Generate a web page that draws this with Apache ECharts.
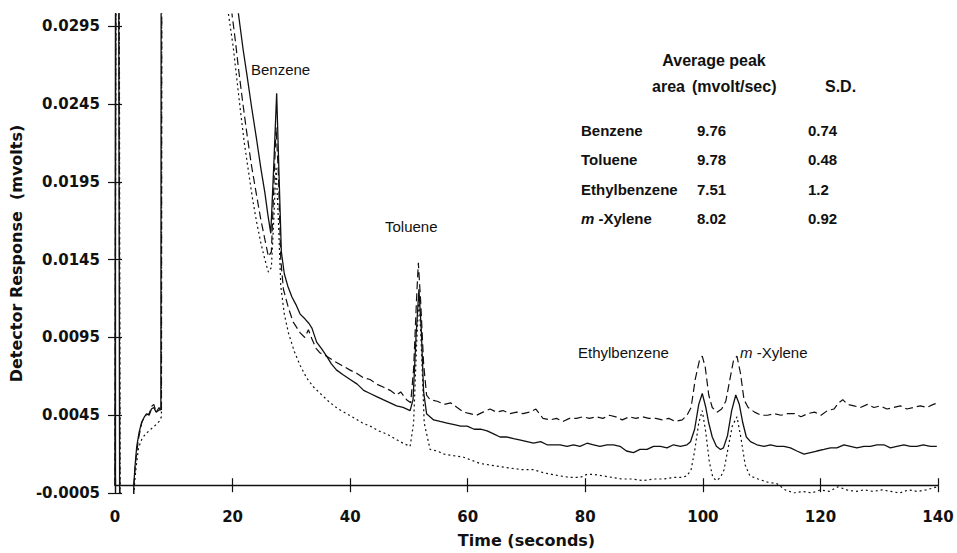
<!DOCTYPE html>
<html>
<head>
<meta charset="utf-8">
<script src="https://cdn.jsdelivr.net/npm/echarts@6/dist/echarts.min.js"></script>
<style>html,body{margin:0;padding:0;background:#fff}#c{width:957px;height:553px}</style>
</head>
<body>
<div id="c"></div>
<script>
// ---- data ----
const xTicks = [0, 20, 40, 60, 80, 100, 120, 140];
const yTicks = [-0.0005, 0.0045, 0.0095, 0.0145, 0.0195, 0.0245, 0.0295];

const compounds = ['Benzene', 'Toluene', 'Ethylbenzene', 'm -Xylene'];
const peakAreas = ['9.76', '9.78', '7.51', '8.02'];
const peakSD = ['0.74', '0.48', '1.2', '0.92'];

// time (s), response (mV)  -- solid trace
const solidTrace = [
[0,0],[0.2,0.06],[0.5,0.06],[0.8,-0.004],[3.0,-0.004],
[3.2,0.0000],[3.4,0.0012],[3.7,0.0025],[4.1,0.0034],[4.5,0.0040],[5.0,0.0044],[5.4,0.0046],[5.8,0.0045],[6.2,0.0049],[6.6,0.0050],[7.0,0.0047],[7.4,0.0048],[7.8,0.0049],[7.9,0.06],[20.0,0.06],
[21.0,0.0303],[21.8,0.0280],[22.4,0.0265],[23.2,0.0244],[24.1,0.0222],[24.8,0.0204],[25.5,0.0188],[26.0,0.0174],[26.5,0.0162],[27.0,0.0205],[27.5,0.0252],[27.9,0.0200],[28.3,0.0150],[28.8,0.0136],[29.4,0.0128],[30.1,0.0121],[30.8,0.0116],[31.5,0.0110],[32.3,0.0107],[33.0,0.0104],[33.5,0.0101],[34.3,0.0092],[35.1,0.0088],[36.0,0.0083],[36.8,0.0078],[37.7,0.0074],[38.8,0.0071],[40.0,0.0068],[41.2,0.0065],[42.3,0.0061],[43.4,0.0059],[44.5,0.0057],[45.6,0.0055],[46.8,0.0053],[47.9,0.0051],[49.0,0.0050],[50.2,0.0048],[50.7,0.0055],[51.2,0.0095],[51.7,0.0126],[52.1,0.0100],[52.5,0.0060],[53.0,0.0046],[54.2,0.0042],[55.3,0.0041],[56.5,0.0040],[57.7,0.0039],[58.8,0.0038],[59.9,0.0038],[61.1,0.0036],[62.2,0.0036],[63.3,0.0035],[64.4,0.0033],[65.5,0.0031],[66.7,0.0031],[67.8,0.0030],[69.0,0.0029],[70.1,0.0028],[71.2,0.0027],[72.4,0.0028],[73.5,0.0026],[74.6,0.0026],[75.7,0.0026],[76.9,0.0025],[78.0,0.0026],[79.1,0.0025],[80.3,0.0027],[81.4,0.0026],[82.5,0.0025],[83.7,0.0026],[84.8,0.0026],[85.9,0.0025],[87.0,0.0022],[88.2,0.0021],[89.3,0.0023],[90.5,0.0023],[91.6,0.0025],[92.8,0.0025],[93.9,0.0024],[95.0,0.0026],[96.2,0.0025],[97.3,0.0026],[97.9,0.0028],[98.6,0.0036],[99.3,0.0052],[99.9,0.0059],[100.5,0.0050],[101.0,0.0040],[101.6,0.0031],[102.3,0.0025],[103.0,0.0023],[103.5,0.0024],[104.2,0.0032],[104.9,0.0048],[105.6,0.0058],[106.2,0.0052],[106.8,0.0040],[107.4,0.0031],[108.1,0.0028],[109.2,0.0026],[110.4,0.0025],[111.5,0.0026],[112.6,0.0025],[113.8,0.0025],[114.9,0.0024],[116.0,0.0022],[117.2,0.0020],[118.3,0.0021],[119.4,0.0022],[120.6,0.0023],[121.7,0.0024],[122.8,0.0024],[124.0,0.0026],[125.1,0.0025],[126.2,0.0024],[127.4,0.0025],[128.5,0.0025],[129.6,0.0026],[130.8,0.0026],[131.9,0.0024],[133.0,0.0025],[134.2,0.0026],[135.3,0.0025],[136.4,0.0025],[137.5,0.0026],[138.7,0.0025],[139.8,0.0025]
];

// dashed trace
const dashedTrace = [
[0,0],[0.25,0.06],[0.55,0.06],[0.85,-0.004],[3.0,-0.004],
[3.2,0.0000],[3.5,0.0015],[4.0,0.0030],[4.6,0.0041],[5.2,0.0045],[5.8,0.0046],[6.3,0.0051],[6.6,0.0052],[7.0,0.0047],[7.5,0.0050],[7.9,0.0047],[8.0,0.06],[19.0,0.06],
[19.9,0.0303],[20.5,0.0285],[21.0,0.0268],[21.7,0.0247],[22.4,0.0227],[23.2,0.0206],[24.1,0.0186],[24.8,0.0171],[25.5,0.0158],[26.1,0.0147],[26.6,0.0150],[27.0,0.0190],[27.4,0.0230],[27.8,0.0200],[28.2,0.0145],[28.65,0.0126],[29.5,0.0114],[30.3,0.0105],[31.5,0.0098],[32.3,0.0095],[32.9,0.0100],[33.5,0.0094],[34.2,0.0088],[34.9,0.0085],[36.0,0.0083],[37.2,0.0080],[38.6,0.0077],[40.0,0.0074],[41.1,0.0072],[42.3,0.0069],[43.4,0.0068],[44.5,0.0065],[45.7,0.0063],[46.8,0.0061],[47.9,0.0058],[48.6,0.0060],[49.6,0.0055],[50.3,0.0053],[50.8,0.0075],[51.3,0.0120],[51.6,0.0143],[52.0,0.0118],[52.5,0.0078],[53.0,0.0058],[53.6,0.0055],[54.8,0.0054],[56.0,0.0052],[57.1,0.0053],[58.2,0.0050],[59.3,0.0047],[60.4,0.0046],[61.5,0.0045],[62.6,0.0047],[63.8,0.0049],[64.9,0.0047],[66.0,0.0048],[67.2,0.0046],[68.3,0.0047],[69.4,0.0046],[70.5,0.0047],[71.6,0.0049],[72.8,0.0043],[74.0,0.0042],[75.1,0.0043],[76.2,0.0041],[77.3,0.0043],[78.5,0.0043],[79.6,0.0044],[80.7,0.0043],[81.8,0.0044],[83.0,0.0043],[84.1,0.0045],[85.2,0.0044],[86.3,0.0042],[87.5,0.0044],[88.6,0.0043],[89.7,0.0044],[90.8,0.0043],[92.0,0.0043],[93.1,0.0042],[94.2,0.0043],[95.3,0.0041],[96.5,0.0042],[97.3,0.0045],[98.0,0.0050],[98.7,0.0068],[99.4,0.0080],[99.9,0.0083],[100.4,0.0076],[101.0,0.0058],[101.6,0.0050],[102.4,0.0047],[103.2,0.0049],[103.9,0.0054],[104.6,0.0068],[105.2,0.0080],[105.8,0.0083],[106.4,0.0072],[107.0,0.0055],[107.7,0.0050],[108.8,0.0047],[109.9,0.0045],[111.0,0.0045],[112.2,0.0046],[113.3,0.0045],[114.4,0.0046],[115.6,0.0046],[116.7,0.0044],[117.8,0.0046],[119.0,0.0047],[120.1,0.0045],[121.2,0.0048],[122.3,0.0049],[123.1,0.0053],[123.8,0.0055],[124.6,0.0052],[125.7,0.0051],[126.8,0.0050],[128.0,0.0052],[129.1,0.0050],[130.2,0.0051],[131.3,0.0049],[132.5,0.0050],[133.6,0.0051],[134.7,0.0049],[135.8,0.0050],[137.0,0.0051],[138.1,0.0050],[139.2,0.0052],[140.0,0.0053]
];

// dotted trace
const dottedTrace = [
[0,0],[0.3,0.06],[0.6,0.06],[0.9,-0.004],[3.0,-0.004],
[3.3,0.0000],[3.6,0.0012],[4.0,0.0024],[4.6,0.0030],[5.2,0.0033],[5.8,0.0035],[6.4,0.0037],[7.0,0.0039],[7.5,0.0041],[7.9,0.0044],[8.0,0.06],[18.5,0.06],
[19.3,0.0303],[20.1,0.0282],[20.7,0.0262],[21.3,0.0242],[22.0,0.0220],[22.7,0.0202],[23.4,0.0184],[24.1,0.0169],[24.8,0.0156],[25.5,0.0145],[26.1,0.0137],[26.6,0.0140],[27.0,0.0170],[27.4,0.0205],[27.8,0.0170],[28.2,0.0128],[28.8,0.0110],[29.5,0.0098],[30.5,0.0086],[31.5,0.0077],[32.6,0.0069],[33.8,0.0063],[35.2,0.0058],[36.6,0.0053],[38.0,0.0049],[39.4,0.0046],[40.8,0.0043],[42.1,0.0040],[43.4,0.0038],[44.8,0.0035],[46.2,0.0033],[47.6,0.0030],[49.0,0.0027],[50.2,0.0025],[50.8,0.0040],[51.3,0.0090],[51.7,0.0122],[52.1,0.0090],[52.6,0.0040],[53.6,0.0023],[54.8,0.0022],[56.0,0.0020],[57.6,0.0019],[59.3,0.0018],[60.7,0.0016],[62.1,0.0014],[63.8,0.0013],[65.5,0.0012],[67.3,0.0011],[69.2,0.0010],[71.2,0.0010],[72.9,0.0008],[74.3,0.0007],[75.7,0.0006],[77.4,0.0005],[79.1,0.0005],[80.3,0.0007],[81.4,0.0007],[83.0,0.0006],[84.6,0.0005],[86.2,0.0004],[87.9,0.0004],[89.9,0.0003],[91.6,0.0004],[93.3,0.0004],[95.0,0.0005],[96.4,0.0005],[97.3,0.0006],[98.0,0.0010],[98.6,0.0022],[99.3,0.0040],[99.9,0.0048],[100.5,0.0034],[101.1,0.0015],[101.7,0.0005],[102.3,0.0003],[103.0,0.0005],[103.6,0.0010],[104.3,0.0024],[105.0,0.0038],[105.8,0.0044],[106.5,0.0030],[107.2,0.0013],[108.0,0.0006],[109.4,0.0004],[111.0,0.0002],[112.6,0.0001],[114.0,-0.0003],[115.5,-0.0005],[117.0,-0.0004],[118.5,-0.0005],[120.0,-0.0003],[121.5,-0.0004],[123.0,-0.0001],[124.5,-0.0003],[126.0,-0.0004],[127.5,-0.0003],[129.0,-0.0004],[130.5,-0.0003],[132.0,-0.0004],[133.5,-0.0005],[135.0,-0.0003],[136.5,-0.0004],[138.0,-0.0003],[139.9,-0.0001]
];

// ---- presentation ----
const FONT = '"Liberation Sans", Arial, Helvetica, sans-serif';
const AXFONT = '"DejaVu Sans", Verdana, sans-serif';
const INK = '#111';
const Y_MIN = -0.0005, Y_MAX = 0.0303;
const chart = echarts.init(document.getElementById('c'), null, {renderer: 'svg'});

const axisLineStyle = {color: INK, width: 1.3};
const tickStyle = {color: INK, width: 1.2};

function rowText(name) {
  if (name.indexOf('m -') === 0) return '{i|m}{b|' + name.slice(1) + '}';
  return '{b|' + name + '}';
}
const richBold = {
  b: {fontFamily: FONT, fontWeight: 'bold', fontSize: 15, fill: INK},
  i: {fontFamily: FONT, fontWeight: 'bold', fontStyle: 'italic', fontSize: 15, fill: INK}
};
const richNorm = {
  b: {fontFamily: FONT, fontWeight: 'normal', fontSize: 15, fill: INK},
  i: {fontFamily: FONT, fontWeight: 'normal', fontStyle: 'italic', fontSize: 15, fill: INK}
};

const graphics = [];
// table header
graphics.push({type: 'text', x: 714, y: 60, style: {text: 'Average peak', font: 'bold 16px ' + FONT, fill: INK, align: 'center', verticalAlign: 'middle'}});
graphics.push({type: 'text', x: 652, y: 86, style: {text: 'area', font: 'bold 16px ' + FONT, fill: INK, align: 'left', verticalAlign: 'middle'}});
graphics.push({type: 'text', x: 692, y: 86, style: {text: '(mvolt/sec)', font: 'bold 16px ' + FONT, fill: INK, align: 'left', verticalAlign: 'middle'}});
graphics.push({type: 'text', x: 825, y: 86, style: {text: 'S.D.', font: 'bold 16px ' + FONT, fill: INK, align: 'left', verticalAlign: 'middle'}});
const rowY = [130, 159, 189, 218];
compounds.forEach((c, i) => {
  graphics.push({type: 'text', x: 581, y: rowY[i], style: {text: rowText(c), rich: richBold, align: 'left', verticalAlign: 'middle'}});
  graphics.push({type: 'text', x: 697, y: rowY[i], style: {text: peakAreas[i], font: 'bold 15px ' + FONT, fill: INK, align: 'left', verticalAlign: 'middle'}});
  graphics.push({type: 'text', x: 808, y: rowY[i], style: {text: peakSD[i], font: 'bold 15px ' + FONT, fill: INK, align: 'left', verticalAlign: 'middle'}});
});
// peak labels
const peakLabelPos = [[251, 69], [385, 226], [578, 352], [740, 352]];
compounds.forEach((c, i) => {
  graphics.push({type: 'text', x: peakLabelPos[i][0], y: peakLabelPos[i][1], style: {text: rowText(c), rich: richNorm, align: 'left', verticalAlign: 'middle'}});
});

const baseX = {
  type: 'value', min: 0, max: 140, interval: 20, position: 'bottom',
  splitLine: {show: false}
};
const baseY = {
  type: 'value', min: Y_MIN, max: Y_MAX, position: 'left',
  splitLine: {show: false}
};
const axLabelStyle = {color: INK, fontFamily: AXFONT, fontWeight: 'bold', fontSize: 15};
const axNameStyle = {color: INK, fontFamily: AXFONT, fontWeight: 'bold', fontSize: 16};

chart.setOption({
  animation: false,
  backgroundColor: '#fff',
  grid: {left: 115, right: 19, top: 14, bottom: 60, outerBoundsMode: 'none', containLabel: false},
  xAxis: [
    Object.assign({}, baseX, {
      axisLine: {onZero: false, lineStyle: axisLineStyle},
      axisTick: {length: 7, lineStyle: tickStyle, customValues: xTicks},
      axisLabel: Object.assign({customValues: xTicks, margin: 24}, axLabelStyle),
      name: 'Time (seconds)', nameLocation: 'middle', nameGap: 47,
      nameTextStyle: axNameStyle
    }),
    Object.assign({}, baseX, {
      axisLine: {show: false, onZero: false},
      axisTick: {inside: true, length: 7, lineStyle: tickStyle, customValues: xTicks},
      axisLabel: {show: false}
    })
  ],
  yAxis: [
    Object.assign({}, baseY, {
      axisLine: {onZero: false, lineStyle: axisLineStyle},
      axisTick: {length: 7, lineStyle: tickStyle, customValues: yTicks},
      axisLabel: Object.assign({customValues: yTicks, margin: 15, formatter: v => v.toFixed(4)}, axLabelStyle),
      name: 'Detector Response  (mvolts)', nameLocation: 'middle', nameGap: 86, nameRotate: 90,
      nameTextStyle: axNameStyle
    }),
    Object.assign({}, baseY, {
      axisLine: {show: false, onZero: false},
      axisTick: {inside: true, length: 7, lineStyle: tickStyle, customValues: yTicks},
      axisLabel: {show: false}
    })
  ],
  series: [
    {type: 'line', data: solidTrace, showSymbol: false, symbol: 'none', clip: true,
      lineStyle: {color: INK, width: 1.3, type: 'solid'}},
    {type: 'line', data: dashedTrace, showSymbol: false, symbol: 'none', clip: true,
      lineStyle: {color: INK, width: 1.2, type: [8, 4]}},
    {type: 'line', data: dottedTrace, showSymbol: false, symbol: 'none', clip: true,
      lineStyle: {color: INK, width: 1.2, type: [2, 3]}}
  ],
  graphic: graphics
});

// place the time axis line at response = 0, as in the reference
const yZeroPx = chart.convertToPixel({yAxisIndex: 0}, 0);
const yBottomPx = chart.convertToPixel({yAxisIndex: 0}, Y_MIN);
const shift = yZeroPx - yBottomPx;
chart.setOption({xAxis: [{offset: shift}, {offset: shift}]});
</script>
</body>
</html>
